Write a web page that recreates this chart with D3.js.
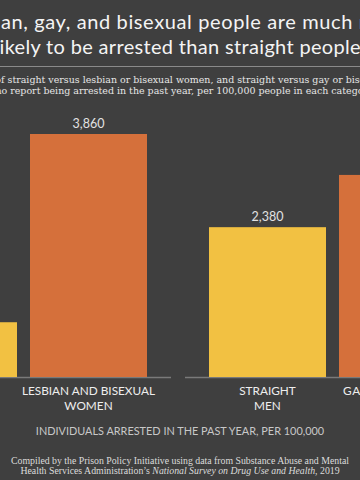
<!DOCTYPE html>
<html>
<head>
<meta charset="utf-8">
<script src="https://cdn.jsdelivr.net/npm/d3@7"></script>
<style>
  html, body { margin: 0; padding: 0; background: #3f3f3f; overflow: hidden; }
  svg { display: block; }
</style>
</head>
<body>
<svg id="chart" width="360" height="480"></svg>
<script>
// ---- data ----
const groups = ["Women", "Men"];
const subgroups = ["Straight", "LGB"];
const categories = [
  ["STRAIGHT", "WOMEN"],
  ["LESBIAN AND BISEXUAL", "WOMEN"],
  ["STRAIGHT", "MEN"],
  ["GAY OR BISEXUAL", "MEN"]
];
const values = [870, 3860, 2380, 3210];
const titleLines = [
  "Lesbian, gay, and bisexual people are much more",
  "likely to be arrested than straight people."
];
const subtitleLines = [
  "Rates of straight versus lesbian or bisexual women, and straight versus gay or bisexual men",
  "who report being arrested in the past year, per 100,000 people in each category"
];
const axisTitle = "INDIVIDUALS ARRESTED IN THE PAST YEAR, PER 100,000";
const sourceLine1 = "Compiled by the Prison Policy Initiative using data from Substance Abuse and Mental";
const sourceLine2a = "Health Services Administration\u2019s ";
const sourceLine2b = "National Survey on Drug Use and Health";
const sourceLine2c = ", 2019";

// ---- layout ----
const W = 360, H = 480;
const centerX = 180;
const baseY = 377;
const colors = { Straight: "#f2c142", LGB: "#d5703b" };
const bg = "#3f3f3f";
const sans = "Lato, 'Open Sans', sans-serif";
const serif = "'DejaVu Serif', serif";
const serif2 = "'Liberation Serif', serif";

const svg = d3.select("#chart");
svg.append("rect").attr("width", W).attr("height", H).attr("fill", bg);

// fit a line so that chars [si..ei] span [xa, xb] using letter-spacing
function fitSpacing(sel, str, si, ei, xa, xb) {
  const n = sel.node();
  const w = n.getEndPositionOfChar(ei).x - n.getStartPositionOfChar(si).x;
  sel.attr("letter-spacing", (xb - xa - w) / (ei - si + 1));
  sel.attr("x", xa - n.getStartPositionOfChar(si).x);
}

// ---- title (wide headline, cropped at both sides like the reference) ----
const t1 = svg.append("text").attr("x", 0).attr("y", 28.5)
  .attr("font-family", sans).attr("font-size", 20).attr("fill", "#f4f4f4")
  .text(titleLines[0]);
fitSpacing(t1, titleLines[0], titleLines[0].indexOf("an,"), titleLines[0].indexOf("much") + 3, 1, 353);

const t2 = svg.append("text").attr("x", 0).attr("y", 53.5)
  .attr("font-family", sans).attr("font-size", 20).attr("fill", "#f4f4f4")
  .text(titleLines[1]);
fitSpacing(t2, titleLines[1], 1, titleLines[1].indexOf("people") + 5, -0.5, 361);

svg.append("line").attr("x1", 0).attr("x2", W).attr("y1", 66.5).attr("y2", 66.5)
  .attr("stroke", "#8a8a8a").attr("stroke-width", 1);

// ---- subtitle ----
const st1 = svg.append("text").attr("x", 0).attr("y", 83)
  .attr("font-family", serif).attr("font-size", 10).attr("fill", "#e6e6e6")
  .text(subtitleLines[0]);
const sn1 = st1.node();
const ss = subtitleLines[0].indexOf("f straight");
const se = subtitleLines[0].lastIndexOf("bis") + 2;
const sw = sn1.getEndPositionOfChar(se).x - sn1.getStartPositionOfChar(ss).x;
const subSize = 10 * 359 / sw;
st1.attr("font-size", subSize);
st1.attr("x", 1 - sn1.getStartPositionOfChar(ss).x);

const st2 = svg.append("text").attr("x", 0).attr("y", 94)
  .attr("font-family", serif).attr("font-size", subSize).attr("fill", "#e6e6e6")
  .text(subtitleLines[1]);
const sn2 = st2.node();
st2.attr("x", 1.5 - sn2.getStartPositionOfChar(2).x);

// ---- bars ----
const data = groups.flatMap((g, gi) => subgroups.map((s, si) => ({
  group: g, sub: s, value: values[gi * 2 + si], label: categories[gi * 2 + si]
})));

const x0 = d3.scaleBand().domain(groups).range([-124, 480]).paddingInner(14 / 309);
const x1 = d3.scaleBand().domain(subgroups).range([0, x0.bandwidth()])
  .paddingInner(0.1).paddingOuter(0.1846);
const y = d3.scaleLinear().domain([0, 4000]).range([baseY, baseY - 243 * 4000 / 3860]);

const grp = svg.append("g").selectAll("g.grp").data(groups).join("g")
  .attr("transform", d => `translate(${x0(d)},0)`);

grp.append("line")
  .attr("x1", 0).attr("x2", x0.bandwidth())
  .attr("y1", baseY + 0.5).attr("y2", baseY + 0.5)
  .attr("stroke", "#7a7a7a").attr("stroke-width", 1.5);

const bars = grp.selectAll("g.bar").data(gd => data.filter(d => d.group === gd)).join("g");

bars.append("rect")
  .attr("x", d => x1(d.sub))
  .attr("width", x1.bandwidth())
  .attr("y", d => y(d.value))
  .attr("height", d => y(0) - y(d.value))
  .attr("fill", d => colors[d.sub]);

bars.append("text")
  .attr("x", d => x1(d.sub) + x1.bandwidth() / 2)
  .attr("y", d => y(d.value) - 6)
  .attr("text-anchor", "middle")
  .attr("font-family", sans).attr("font-size", 12.5)
  .attr("fill", "#e2e2e2")
  .text(d => d3.format(",")(d.value));

bars.append("text")
  .attr("text-anchor", "middle")
  .attr("font-family", sans).attr("font-size", 11.8)
  .attr("letter-spacing", d => d.sub === "LGB" && d.group === "Men" ? 0.6 : 0)
  .attr("fill", "#eeeeee")
  .each(function(d) {
    const t = d3.select(this);
    d.label.forEach((l, i) => t.append("tspan")
      .attr("x", x1(d.sub) + x1.bandwidth() / 2)
      .attr("y", baseY + 17.5 + i * 15).text(l));
  });

svg.append("text").attr("x", centerX).attr("y", 435)
  .attr("text-anchor", "middle").attr("font-family", sans).attr("font-size", 10.9)
  .attr("fill", "#c8c8c8").text(axisTitle);

const src = svg.append("text").attr("text-anchor", "middle")
  .attr("font-family", serif2).attr("font-size", 9.8).attr("fill", "#dcdcdc");
src.append("tspan").attr("x", centerX).attr("y", 463.5).text(sourceLine1);
const l2 = src.append("tspan").attr("x", centerX).attr("y", 474);
l2.append("tspan").text(sourceLine2a);
l2.append("tspan").attr("font-style", "italic").text(sourceLine2b);
l2.append("tspan").text(sourceLine2c);
</script>
</body>
</html>
